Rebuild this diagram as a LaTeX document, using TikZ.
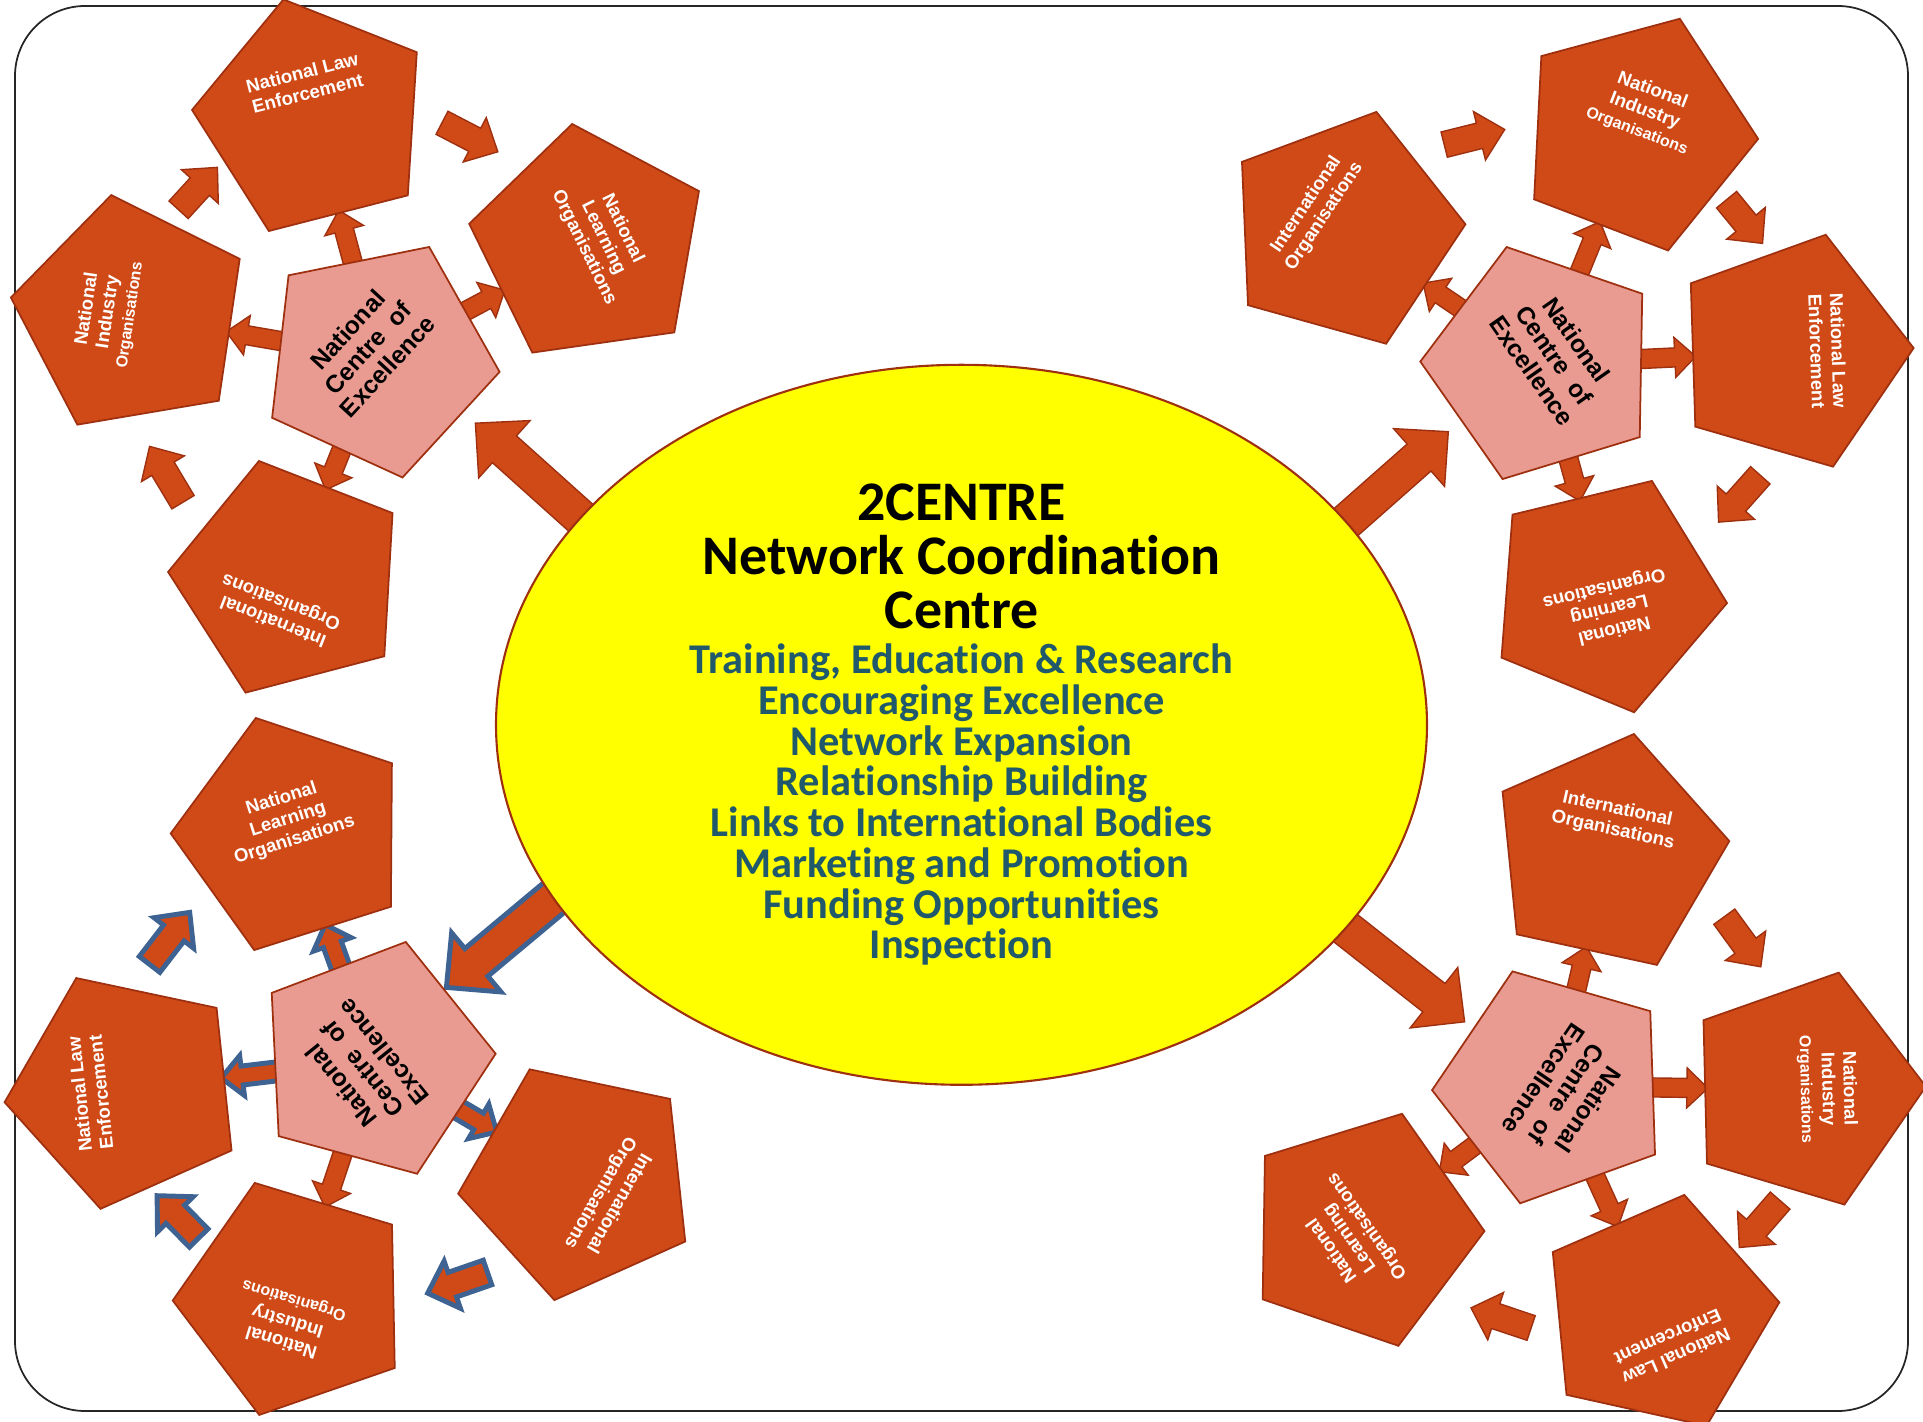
\documentclass[tikz,border=0pt]{standalone}
\usepackage{fontspec}
\setmainfont{Liberation Sans}
\newfontfamily\calib[Ligatures=NoCommon]{Carlito}
\usetikzlibrary{shapes.geometric,calc,backgrounds}

\definecolor{rust}{RGB}{208,74,23}
\definecolor{rustline}{RGB}{158,48,16}
\definecolor{salmon}{RGB}{233,155,145}
\definecolor{sun}{RGB}{255,255,0}
\definecolor{listblue}{RGB}{31,89,107}
\definecolor{steel}{RGB}{62,98,145}

\newcommand\linestack[1]{\vtop{\halign{\hfil##\hfil\cr#1\crcr}}}
\newcommand\pent[2][4]{\makebox[0pt]{\raisebox{#1mm}[0pt][0pt]{\linestack{#2}}}}
\newcommand\orgs{{\fontsize{4.55}{5.5}\selectfont Organisations}}

% block arrow: [style]{tail}{tip}{half shaft}{half head}{head length}
\newcommand\fatarrow[6][]{%
  \coordinate (fa-t) at #2;
  \coordinate (fa-h) at #3;
  \coordinate (fa-n) at ($(fa-h)!#6!(fa-t)$);
  \draw[#1] ($(fa-t)!#4!90:(fa-h)$) -- ($(fa-n)!#4!-90:(fa-t)$) -- ($(fa-n)!#5!-90:(fa-t)$)
    -- (fa-h) -- ($(fa-n)!#5!90:(fa-t)$) -- ($(fa-n)!#4!90:(fa-t)$) -- ($(fa-t)!#4!-90:(fa-h)$) -- cycle;}
\newcommand\spoke[3][arr]{\fatarrow[#1]{($(#2)!9.5mm!(#3)$)}{($(#3)!9.6mm!(#2)$)}{0.95mm}{2mm}{2.1mm}}
\newcommand\ringarrow[3][arr]{\fatarrow[#1]{(#2)}{(#3)}{1.3mm}{2.5mm}{2.6mm}}
\newcommand\hubarrow[3][arr]{\fatarrow[#1]{(#2)}{(#3)}{1.8mm}{3.85mm}{3.9mm}}

\tikzset{
  pent/.style={regular polygon, regular polygon sides=5, minimum size=24.4mm, inner sep=0pt,
    fill=rust, draw=rustline, line width=0.5pt, text=white, font=\bfseries\fontsize{5.3}{6.1}\selectfont},
  hubpent/.style={pent, fill=salmon, text=black, font=\bfseries\fontsize{7}{7.7}\selectfont},
  arr/.style={fill=rust, draw=rustline, line width=0.4pt},
  bluearr/.style={fill=rust, draw=steel, line width=1.4pt},
}

\begin{document}
\begin{tikzpicture}[x=0.1mm, y=0.1mm]
\useasboundingbox (0,0) rectangle (1923,1421);
\draw[rounded corners=7mm, line width=0.5pt, draw=black!85] (15,10) rectangle (1908,1415);

\node[ellipse, minimum width=93.1mm, minimum height=72mm, inner sep=0pt, fill=sun, draw=rustline, line width=0.6pt] (hub) at (961.5,696.2) {};
\node[font=\calib\bfseries\fontsize{15.9}{15.4}\selectfont, anchor=base] (hubtitle) at (961.5,900.3)
  {\linestack{2CENTRE\cr Network Coordination\cr Centre}};
\node[font=\calib\bfseries\fontsize{12.06}{11.6}\selectfont, text=listblue, anchor=base] (hublist) at (961.5,747.4)
  {\linestack{Training, Education \& Research\cr Encouraging Excellence\cr Network Expansion\cr Relationship Building\cr
   Links to International Bodies\cr Marketing and Promotion\cr Funding Opportunities\cr Inspection}};

% top left
\node[hubpent, rotate=47.4] (tlc) at (378.4,1063.1) {\pent[3.3]{National\cr Centre\ \ of\cr Excellence}};
\node[pent, rotate=14.4] (tlnle) at (313.8,1303.4) {\pent{National Law\cr Enforcement}};
\node[pent, rotate=-63.9] (tlnlo) at (589.4,1176.2) {\pent[3.2]{National\cr Learning\cr Organisations}};
\node[pent, rotate=81.6] (tlnio) at (131.6,1105.6) {\pent{National\cr Industry\cr \orgs}};
\node[pent, rotate=158.7] (tlio) at (289.9,842) {\pent{International\cr Organisations}};

% top right
\node[hubpent, rotate=-55] (trc) at (1542.3,1057.3) {\pent[3.3]{National\cr Centre\ \ of\cr Excellence}};
\node[pent, rotate=56.4] (trio) at (1343.6,1191.6) {\pent{International\cr Organisations}};
\node[pent, rotate=-20.9] (trnio) at (1636.3,1288.3) {\pent{National\cr Industry\cr \orgs}};
\node[pent, rotate=-88.2] (trnle) at (1791.7,1069.1) {\pent{National Law\cr Enforcement}};
\node[pent, rotate=193.6] (trnlo) at (1605.4,827.3) {\pent[3.2]{National\cr Learning\cr Organisations}};

% bottom left
\node[hubpent, rotate=128.8] (blc) at (373.8,361.3) {\pent[3.3]{National\cr Centre\ \ of\cr Excellence}};
\node[pent, rotate=17.6] (blnlo) at (292.7,586.7) {\pent[3.2]{National\cr Learning\cr Organisations}};
\node[pent, rotate=96] (blnle) at (125.9,331.5) {\pent{National Law\cr Enforcement}};
\node[pent, rotate=163.1] (blnio) at (294.7,122.8) {\pent{National\cr Industry\cr \orgs}};
\node[pent, rotate=-119.9] (blio) at (579.5,240.3) {\pent{International\cr Organisations}};

% bottom right
\node[hubpent, rotate=-124.1] (brc) at (1554,334.9) {\pent[3.3]{National\cr Centre\ \ of\cr Excellence}};
\node[pent, rotate=-12.3] (brio) at (1607.9,567.8) {\pent{International\cr Organisations}};
\node[pent, rotate=-88.6] (brnio) at (1803.9,331.5) {\pent{National\cr Industry\cr \orgs}};
\node[pent, rotate=-156.5] (brnle) at (1657.9,107) {\pent{National Law\cr Enforcement}};
\node[pent, rotate=125.1] (brnlo) at (1362.5,191.8) {\pent[3.2]{National\cr Learning\cr Organisations}};

\coordinate (tlin) at (600,886);     \coordinate (tlout) at (475.4,997.8);
\coordinate (trin) at (1320,876);    \coordinate (trout) at (1448.3,989.3);
\coordinate (blin) at (575,541);     \coordinate (blout) at (446.4,433.6);
\coordinate (brin) at (1325,509);    \coordinate (brout) at (1464.6,399.2);

\coordinate (tl1s) at (178.6,1211.2); \coordinate (tl1e) at (217.4,1253.6);
\coordinate (tl2s) at (442,1298.2);   \coordinate (tl2e) at (497.8,1269.2);
\coordinate (tl3s) at (183,918.8);    \coordinate (tl3e) at (149.6,974.6);
\coordinate (tr1s) at (1444.2,1276.4); \coordinate (tr1e) at (1504.7,1291.5);
\coordinate (tr2s) at (1726.6,1221.3); \coordinate (tr2e) at (1762.5,1177.6);
\coordinate (tr3s) at (1760.3,945.7);  \coordinate (tr3e) at (1718.6,898.9);
\coordinate (bl1s) at (149.6,456.6);  \coordinate (bl1e) at (189.7,508.6);
\coordinate (bl2s) at (198.7,183);    \coordinate (bl2e) at (157.1,225.3);
\coordinate (bl3s) at (487.5,148.5);  \coordinate (bl3e) at (427.7,127.8);
\coordinate (br1s) at (1724.3,504.3); \coordinate (br1e) at (1760.8,454.2);
\coordinate (br2s) at (1780.1,220.4); \coordinate (br2e) at (1739.3,173.5);
\coordinate (br3s) at (1531.1,93);    \coordinate (br3e) at (1471,113.1);

\begin{pgfonlayer}{background}
\hubarrow{tlin}{tlout}
\hubarrow{trin}{trout}
\hubarrow[bluearr]{blin}{blout}
\hubarrow{brin}{brout}

\spoke{tlc}{tlnle} \spoke{tlc}{tlnlo} \spoke{tlc}{tlnio} \spoke{tlc}{tlio}
\spoke{trc}{trio} \spoke{trc}{trnio} \spoke{trc}{trnle} \spoke{trc}{trnlo}
\spoke[bluearr]{blc}{blnlo} \spoke[bluearr]{blc}{blnle} \spoke[bluearr]{blc}{blio} \spoke{blc}{blnio}
\spoke{brc}{brio} \spoke{brc}{brnio} \spoke{brc}{brnle} \spoke{brc}{brnlo}

\ringarrow{tl1s}{tl1e} \ringarrow{tl2s}{tl2e} \ringarrow{tl3s}{tl3e}
\ringarrow{tr1s}{tr1e} \ringarrow{tr2s}{tr2e} \ringarrow{tr3s}{tr3e}
\ringarrow[bluearr]{bl1s}{bl1e} \ringarrow[bluearr]{bl2s}{bl2e} \ringarrow[bluearr]{bl3s}{bl3e}
\ringarrow{br1s}{br1e} \ringarrow{br2s}{br2e} \ringarrow{br3s}{br3e}
\end{pgfonlayer}
\end{tikzpicture}
\end{document}
